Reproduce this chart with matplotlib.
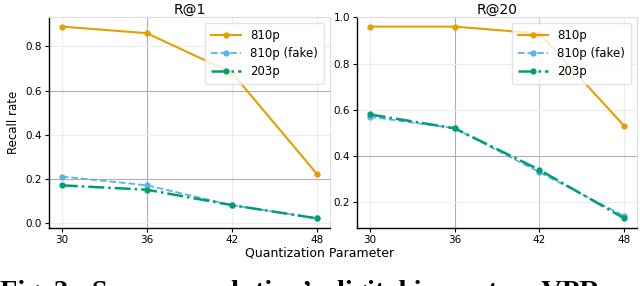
import matplotlib
matplotlib.use("Agg")
import matplotlib.pyplot as plt

qp = [30, 36, 42, 48]
r1_810 = [0.89, 0.86, 0.68, 0.22]
r1_fake = [0.21, 0.17, 0.08, 0.02]
r1_203 = [0.17, 0.15, 0.08, 0.02]
r20_810 = [0.96, 0.96, 0.93, 0.53]
r20_fake = [0.57, 0.52, 0.33, 0.14]
r20_203 = [0.58, 0.52, 0.34, 0.13]
labels = ["810p", "810p (fake)", "203p"]
titles = ["R@1", "R@20"]

plt.rcParams['font.family'] = ['DejaVu Sans']
fig = plt.figure(figsize=(6.4, 2.86), dpi=100)
ax1 = fig.add_axes([49/640, 1 - 228/286, 281/640, 211/286])
ax2 = fig.add_axes([357/640, 1 - 228/286, 280/640, 211/286])

colors = ['#E69F00', '#56B4E9', '#009E73']
styles = ['-', '--', '-.']
lws = [1.5, 1.3, 1.8]

for ax, title, series in [(ax1, titles[0], [r1_810, r1_fake, r1_203]),
                          (ax2, titles[1], [r20_810, r20_fake, r20_203])]:
    for s, lab, c, ls, lw in zip(series, labels, colors, styles, lws):
        ax.plot(qp, s, ls, color=c, marker='o', markersize=3.5, lw=lw, label=lab)
    ax.set_title(title, fontsize=10, pad=2)
    ax.set_xticks(qp)
    ax.grid(True, color='#ececec', lw=0.8)
    ax.set_axisbelow(True)
    ax.tick_params(labelsize=7.5, length=3, width=0.8, pad=2)
    for sp in ['top', 'right']:
        ax.spines[sp].set_color('#dddddd')
        ax.spines[sp].set_linewidth(0.8)
    for sp in ['left', 'bottom']:
        ax.spines[sp].set_color('black')
        ax.spines[sp].set_linewidth(1.0)
    ax.legend(loc='upper right', fontsize=8.5, framealpha=0.8,
              edgecolor='#dddddd', handlelength=2.5, borderpad=0.5,
              labelspacing=0.45)

ax1.set_yticks([0.0, 0.2, 0.4, 0.6, 0.8])
ax2.set_yticks([0.2, 0.4, 0.6, 0.8, 1.0])

# some grid lines render darker in the reference
def darken(lines, idx, col):
    for i in idx:
        lines[i].set_color(col)

darken(ax1.get_ygridlines(), [1, 3], '#b0b0b0')
darken(ax1.get_xgridlines(), [1], '#b0b0b0')
darken(ax2.get_ygridlines(), [1], '#b0b0b0')
darken(ax2.get_xgridlines(), [1], '#b0b0b0')
darken(ax2.get_xgridlines(), [2], '#c8c8c8')

ax1.set_ylabel("Recall rate", fontsize=8.5, labelpad=4)
fig.text(0.5, 1 - 253/286, "Quantization Parameter", ha='center', va='center', fontsize=9)
fig.text(0.0, 1 - 299/286, "Fig. 2:  Screen resolution\u2019s digital impact on VPR",
         ha='left', va='baseline', fontsize=20.5, fontweight='bold',
         family=['Liberation Serif'])

fig.savefig("out.png", dpi=100)
